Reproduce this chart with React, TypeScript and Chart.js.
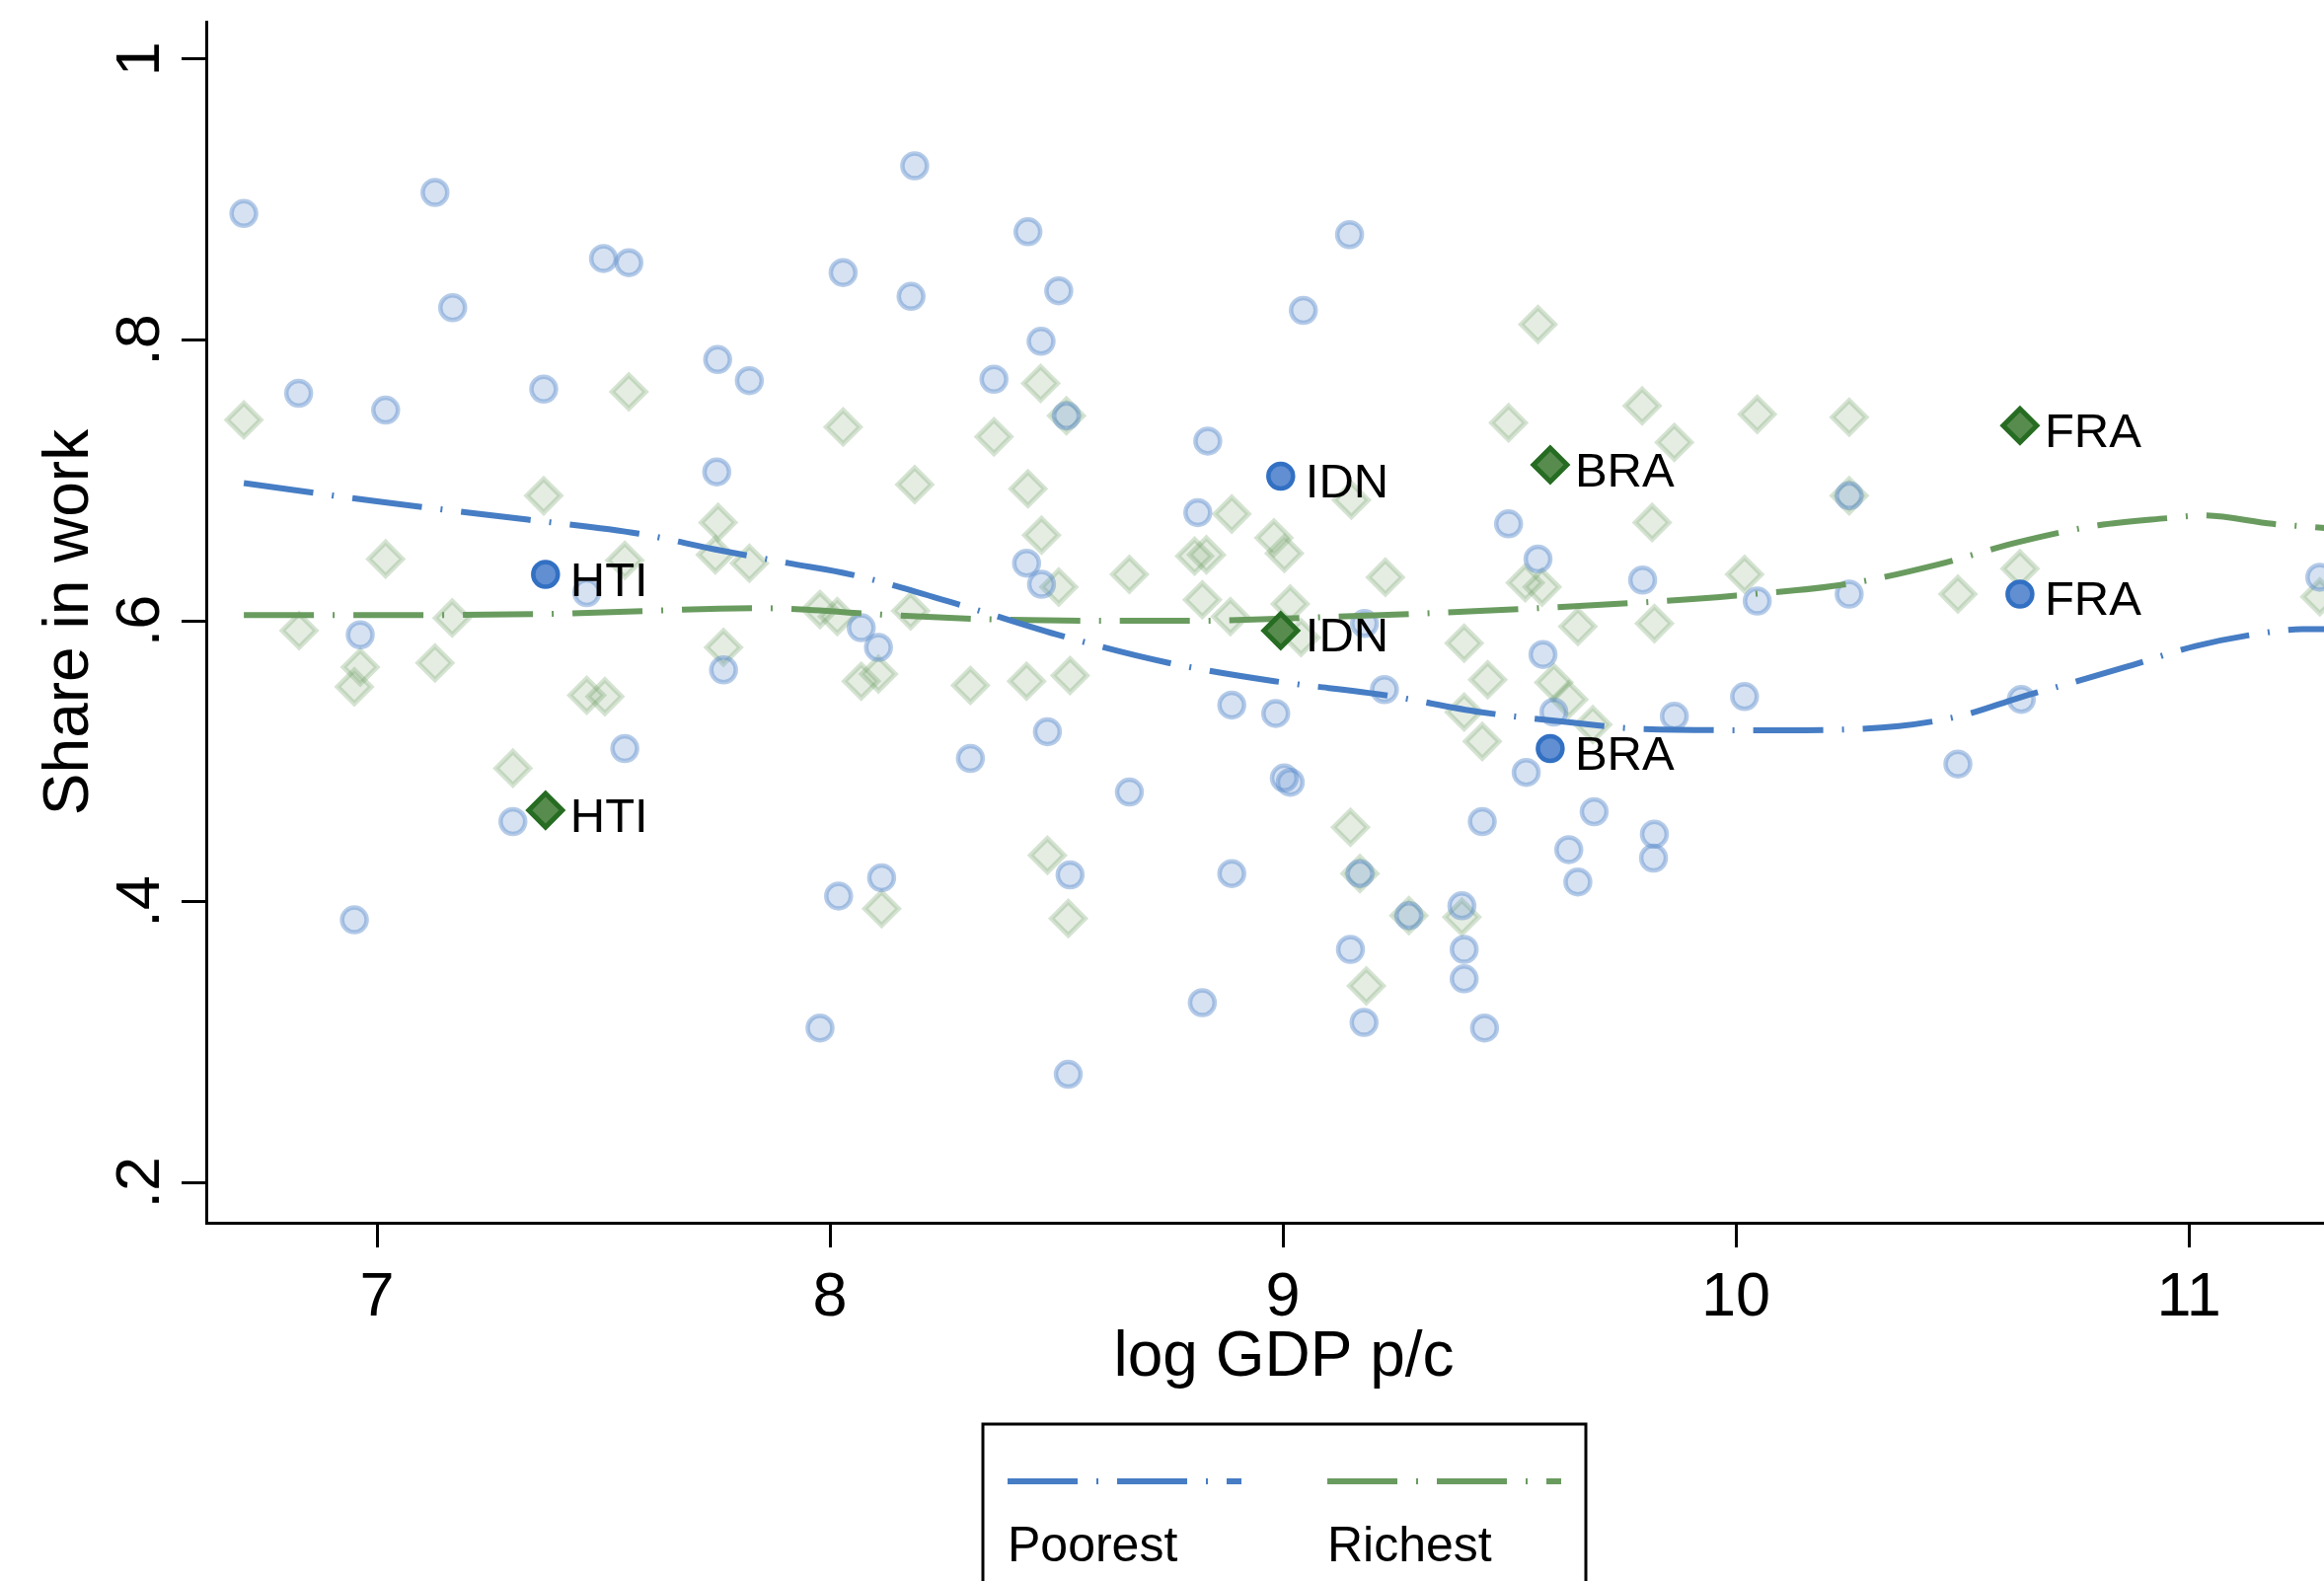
import React, { useEffect, useRef } from "react";
import { Chart, registerables } from "chart.js";

Chart.register(...registerables);

const FONT = "'Liberation Sans', Arial, Helvetica, sans-serif";

// Axis ticks and texts
const X_TICKS = [7, 8, 9, 10, 11];
const Y_TICKS = [0.2, 0.4, 0.6, 0.8, 1];
const Y_TICK_LABELS = [".2", ".4", ".6", ".8", "1"];
const X_TITLE = "log GDP p/c";
const Y_TITLE = "Share in work";
const LEGEND_LABELS = ["Poorest", "Richest"];

// Light scatter: poorest (circles)
const POOREST_POINTS: number[][] = [
  [6.706, 0.890], [7.128, 0.905], [7.500, 0.858], [7.556, 0.855], [7.167, 0.823],
  [6.827, 0.762], [7.019, 0.750], [7.368, 0.765], [7.752, 0.786], [7.822, 0.771],
  [7.750, 0.706], [7.463, 0.620], [6.963, 0.590], [7.765, 0.565], [7.547, 0.509],
  [7.300, 0.457], [6.950, 0.387],
  [8.187, 0.924], [8.437, 0.877], [9.147, 0.875], [8.029, 0.848], [8.179, 0.831],
  [8.505, 0.835], [9.045, 0.821], [8.466, 0.799], [8.362, 0.772], [8.522, 0.746],
  [8.834, 0.728], [8.812, 0.677], [8.434, 0.641], [8.467, 0.626], [8.069, 0.595],
  [8.107, 0.581], [9.180, 0.598], [9.224, 0.551],
  [8.887, 0.540], [8.984, 0.534], [8.480, 0.521], [8.310, 0.502], [8.661, 0.478],
  [9.003, 0.488], [9.016, 0.485], [9.440, 0.457], [9.170, 0.420], [8.530, 0.419],
  [8.887, 0.420], [8.114, 0.417], [8.019, 0.404], [9.278, 0.390], [9.395, 0.397],
  [9.149, 0.366], [9.400, 0.366], [9.400, 0.345], [8.822, 0.328], [9.179, 0.314],
  [9.445, 0.310], [7.978, 0.310], [8.526, 0.277],
  [10.250, 0.689], [9.498, 0.669], [9.563, 0.644], [9.794, 0.629], [10.047, 0.614],
  [10.250, 0.619], [11.289, 0.631], [9.574, 0.576], [10.019, 0.546], [9.598, 0.535],
  [9.864, 0.532], [9.537, 0.492], [10.490, 0.498], [10.630, 0.544], [9.687, 0.464],
  [9.820, 0.448], [9.818, 0.431], [9.631, 0.437], [9.651, 0.414],
];

// Light scatter: richest (diamonds)
const RICHEST_POINTS: number[][] = [
  [6.706, 0.743], [7.556, 0.763], [7.368, 0.689], [7.753, 0.670], [7.019, 0.644],
  [7.547, 0.643], [7.747, 0.647], [7.822, 0.641], [6.828, 0.593], [7.166, 0.602],
  [7.765, 0.581], [6.963, 0.567], [7.128, 0.570], [6.950, 0.553], [7.463, 0.547],
  [7.503, 0.546], [7.300, 0.495],
  [8.465, 0.769], [8.522, 0.746], [8.029, 0.738], [8.362, 0.731], [8.187, 0.697],
  [8.437, 0.694], [8.887, 0.676], [9.151, 0.686], [8.467, 0.661], [8.980, 0.659],
  [9.003, 0.648], [8.805, 0.646], [8.831, 0.647], [8.661, 0.633], [9.226, 0.631],
  [7.978, 0.608], [8.016, 0.603], [8.178, 0.607], [8.505, 0.624], [8.822, 0.615],
  [8.884, 0.603], [9.016, 0.612], [9.040, 0.588], [9.400, 0.584], [8.069, 0.557],
  [8.107, 0.562], [8.310, 0.554], [8.434, 0.557], [8.530, 0.561], [9.400, 0.535],
  [9.440, 0.514], [9.149, 0.453], [9.170, 0.420], [8.480, 0.433], [8.114, 0.395],
  [8.526, 0.388], [9.278, 0.390], [9.395, 0.389], [9.184, 0.340],
  [9.563, 0.811], [9.498, 0.741], [9.793, 0.753], [10.047, 0.747], [10.250, 0.745],
  [9.864, 0.727], [10.250, 0.689], [9.815, 0.670], [10.019, 0.633], [9.535, 0.627],
  [9.572, 0.624], [10.490, 0.619], [10.627, 0.637], [11.289, 0.617], [9.651, 0.596],
  [9.820, 0.598], [9.452, 0.558], [9.598, 0.556], [9.631, 0.544], [9.684, 0.526],
];

// Highlighted countries
const COUNTRY_CODES = ["HTI", "IDN", "BRA", "FRA"];
const COUNTRY_GDP = [7.372, 8.995, 9.59, 10.627];
const POOREST_HIGHLIGHT = [0.633, 0.703, 0.509, 0.619];
const RICHEST_HIGHLIGHT = [0.465, 0.593, 0.711, 0.739];

// Smoothed (lowess) curves
const POOREST_FIT: number[][] = [
  [6.706, 0.698], [7.0, 0.685], [7.333, 0.672], [7.578, 0.662], [7.744, 0.651],
  [7.909, 0.641], [8.046, 0.633], [8.28, 0.612], [8.514, 0.589], [8.748, 0.570],
  [8.981, 0.557], [9.226, 0.547], [9.435, 0.535], [9.625, 0.528], [9.792, 0.523],
  [10.1, 0.522], [10.36, 0.525], [10.505, 0.533], [10.623, 0.545], [10.743, 0.556],
  [10.86, 0.567], [11.015, 0.582], [11.158, 0.591], [11.25, 0.594], [11.36, 0.594],
];
const RICHEST_FIT: number[][] = [
  [6.706, 0.604], [7.0, 0.604], [7.4, 0.605], [7.84, 0.609], [8.136, 0.604],
  [8.358, 0.601], [8.6, 0.600], [8.803, 0.600], [9.04, 0.602], [9.435, 0.607],
  [9.79, 0.613], [10.0, 0.618], [10.243, 0.626], [10.445, 0.640], [10.623, 0.656],
  [10.8, 0.668], [10.95, 0.673], [11.03, 0.675], [11.185, 0.669], [11.3, 0.666],
  [11.36, 0.664],
];

const BLUE = "rgb(70,125,196)";
const GREEN = "rgb(105,155,95)";
const DASH = [71, 19, 2, 19];

const toXY = (pts: number[][]) => pts.map((p) => ({ x: p[0], y: p[1] }));

const overlayPlugin = {
  id: "overlayText",
  afterDatasetsDraw(chart: any) {
    const ctx = chart.ctx;
    chart.data.datasets.forEach((ds: any, i: number) => {
      if (!ds.pointLabels) return;
      const meta = chart.getDatasetMeta(i);
      ctx.save();
      ctx.font = `49px ${FONT}`;
      ctx.fillStyle = "#000";
      ctx.textAlign = "left";
      ctx.textBaseline = "middle";
      meta.data.forEach((el: any, j: number) => {
        ctx.fillText(ds.pointLabels[j], el.x + 25, el.y + 8);
      });
      ctx.restore();
    });
  },
  afterDraw(chart: any) {
    const ctx = chart.ctx;
    const ys = chart.scales.y;
    // rotated y tick labels
    ctx.save();
    ctx.font = `63px ${FONT}`;
    ctx.fillStyle = "#000";
    Y_TICKS.forEach((v, i) => {
      const py = ys.getPixelForValue(v);
      ctx.save();
      ctx.translate(ys.right - 48, py);
      ctx.rotate(-Math.PI / 2);
      ctx.textAlign = "center";
      ctx.textBaseline = "alphabetic";
      ctx.fillText(Y_TICK_LABELS[i], 0, 0);
      ctx.restore();
    });
    ctx.restore();

    // legend box
    const bx = 996, by = 1443, bw = 611;
    ctx.save();
    ctx.strokeStyle = "#000";
    ctx.lineWidth = 3;
    ctx.strokeRect(bx, by, bw, 400);
    const colors = [BLUE, GREEN];
    const starts = [bx + 25, bx + 349];
    ctx.lineWidth = 6;
    ctx.setLineDash(DASH);
    colors.forEach((c, i) => {
      ctx.strokeStyle = c;
      ctx.beginPath();
      ctx.moveTo(starts[i], 1501);
      ctx.lineTo(starts[i] + 237, 1501);
      ctx.stroke();
    });
    ctx.setLineDash([]);
    ctx.font = `50px ${FONT}`;
    ctx.fillStyle = "#000";
    ctx.textAlign = "left";
    ctx.textBaseline = "alphabetic";
    LEGEND_LABELS.forEach((t, i) => ctx.fillText(t, starts[i], 1582));
    ctx.restore();
  },
};

export default function App() {
  const ref = useRef<HTMLCanvasElement | null>(null);

  useEffect(() => {
    if (!ref.current) return;
    const axisCommon = {
      grid: {
        display: true,
        drawOnChartArea: false,
        drawTicks: true,
        tickLength: 25,
        tickWidth: 3,
        tickColor: "#000",
      },
      border: { display: true, color: "#000", width: 3 },
    };
    const chart = new Chart(ref.current, {
      type: "scatter",
      data: {
        datasets: [
          {
            label: "Poorest labelled",
            data: COUNTRY_GDP.map((x, i) => ({ x, y: POOREST_HIGHLIGHT[i] })),
            pointStyle: "circle",
            pointRadius: 12.5,
            radius: 12.5,
            borderWidth: 4.5,
            pointBorderWidth: 4.5,
            backgroundColor: "rgb(98,143,210)",
            borderColor: "rgb(50,112,195)",
            order: 0,
            pointLabels: COUNTRY_CODES,
          } as any,
          {
            label: "Richest labelled",
            data: COUNTRY_GDP.map((x, i) => ({ x, y: RICHEST_HIGHLIGHT[i] })),
            pointStyle: "rectRot",
            pointRadius: 17,
            radius: 17,
            borderWidth: 5,
            pointBorderWidth: 5,
            backgroundColor: "rgb(88,140,78)",
            borderColor: "rgb(38,108,34)",
            order: 0,
            pointLabels: COUNTRY_CODES,
          } as any,
          {
            type: "line",
            label: "Poorest",
            data: toXY(POOREST_FIT),
            borderColor: BLUE,
            borderWidth: 6,
            borderDash: DASH,
            pointRadius: 0,
            fill: false,
            showLine: true,
            cubicInterpolationMode: "monotone",
            order: 1,
          } as any,
          {
            type: "line",
            label: "Richest",
            data: toXY(RICHEST_FIT),
            borderColor: GREEN,
            borderWidth: 6,
            borderDash: DASH,
            pointRadius: 0,
            fill: false,
            showLine: true,
            cubicInterpolationMode: "monotone",
            order: 1,
          } as any,
          {
            label: "Poorest points",
            data: toXY(POOREST_POINTS),
            pointStyle: "circle",
            pointRadius: 12.5,
            radius: 12.5,
            borderWidth: 4.5,
            pointBorderWidth: 4.5,
            backgroundColor: "rgba(90,140,205,0.25)",
            borderColor: "rgba(90,140,205,0.45)",
            order: 2,
          } as any,
          {
            label: "Richest points",
            data: toXY(RICHEST_POINTS),
            pointStyle: "rectRot",
            pointRadius: 17,
            radius: 17,
            borderWidth: 5,
            pointBorderWidth: 5,
            backgroundColor: "rgba(100,150,90,0.17)",
            borderColor: "rgba(100,150,90,0.27)",
            order: 3,
          } as any,
        ],
      },
      options: {
        responsive: false,
        animation: false,
        devicePixelRatio: 1,
        layout: { padding: { left: 0, right: 37, top: 18, bottom: 185 } },
        plugins: { legend: { display: false }, tooltip: { enabled: false } },
        scales: {
          x: {
            type: "linear",
            min: 6.623,
            max: 11.381,
            afterBuildTicks: (s: any) => {
              s.ticks = X_TICKS.map((v) => ({ value: v }));
            },
            afterFit: (s: any) => {
              s.height = 178;
            },
            ...axisCommon,
            ticks: {
              color: "#000",
              font: { family: FONT, size: 63 },
              padding: 14,
              minRotation: 0,
              maxRotation: 0,
              callback: (v: any) => String(v),
            },
            title: {
              display: true,
              text: X_TITLE,
              color: "#000",
              font: { family: FONT, size: 64 },
              padding: { top: 0, bottom: 2 },
            },
          },
          y: {
            type: "linear",
            min: 0.1713,
            max: 1.0266,
            afterBuildTicks: (s: any) => {
              s.ticks = Y_TICKS.map((v) => ({ value: v }));
            },
            afterFit: (s: any) => {
              s.width = 209;
            },
            ...axisCommon,
            ticks: { display: false },
            title: {
              display: true,
              text: Y_TITLE,
              color: "#000",
              font: { family: FONT, size: 64 },
              padding: { top: 33, bottom: 0 },
            },
          },
        },
      } as any,
      plugins: [overlayPlugin],
    });
    return () => chart.destroy();
  }, []);

  return (
    <div
      style={{
        position: "absolute",
        left: 0,
        top: 0,
        width: 2355,
        height: 1602,
        overflow: "hidden",
        background: "#fff",
      }}
    >
      <canvas ref={ref} width={2430} height={1602} style={{ display: "block" }} />
    </div>
  );
}
